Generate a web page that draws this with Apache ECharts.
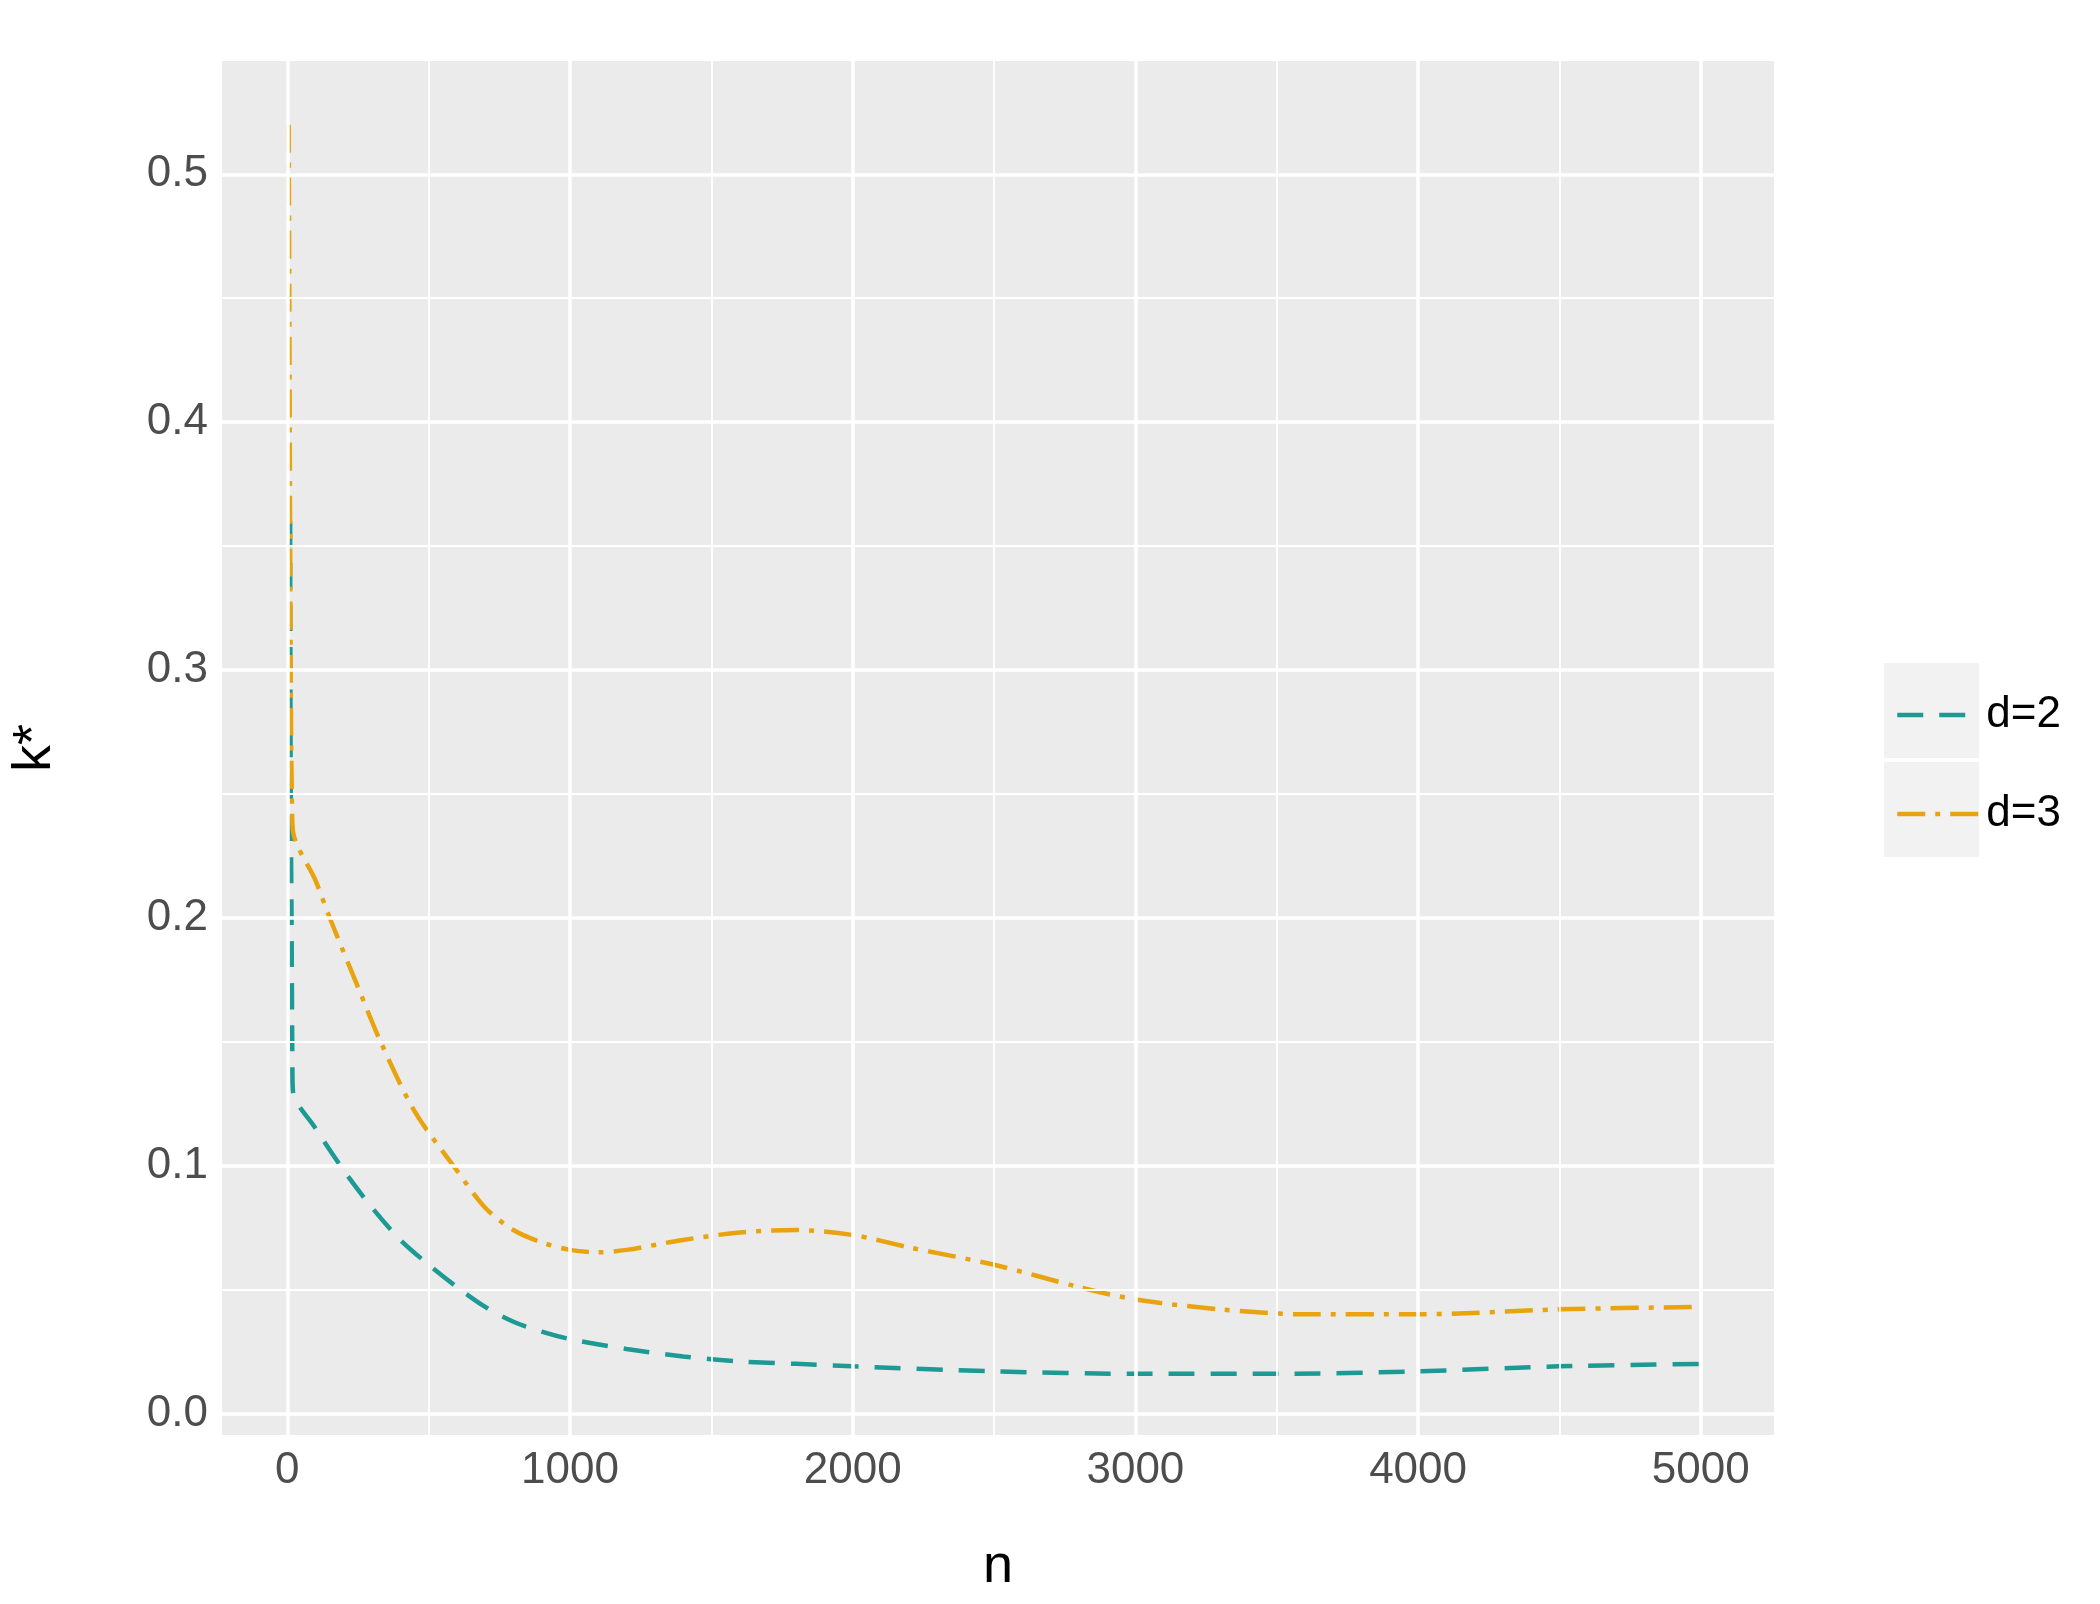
<!DOCTYPE html>
<html><head><meta charset="utf-8">
<script src="https://cdn.jsdelivr.net/npm/echarts@6/dist/echarts.min.js"></script>
<style>html,body{margin:0;padding:0;background:#fff}#c{width:2100px;height:1604px}</style>
</head><body><div id="c"></div>
<script>
const seriesNames = ['d=2', 'd=3'];
const d2 = [[10,0.36],[12,0.25],[15,0.20],[18,0.14],[20,0.13],[100,0.115],[200,0.098],[300,0.083],[400,0.07],[500,0.06],[600,0.051],[700,0.043],[800,0.037],[900,0.033],[1000,0.03],[1200,0.026],[1400,0.023],[1600,0.021],[1800,0.02],[2000,0.019],[2500,0.017],[3000,0.016],[3500,0.016],[4000,0.017],[4500,0.019],[5000,0.02]];
const d3 = [[5,0.52],[8,0.42],[10,0.35],[13,0.28],[16,0.25],[20,0.235],[100,0.215],[150,0.2],[250,0.172],[330,0.15],[450,0.122],[600,0.098],[700,0.083],[800,0.074],[900,0.069],[1000,0.066],[1100,0.065],[1200,0.066],[1400,0.07],[1600,0.073],[1800,0.074],[2000,0.072],[2200,0.067],[2500,0.06],[2800,0.051],[3000,0.046],[3300,0.042],[3600,0.04],[4000,0.04],[4500,0.042],[5000,0.043]];
const xTicks = [0,1000,2000,3000,4000,5000];
const xMinor = [500,1500,2500,3500,4500];
const yTicks = [0,0.1,0.2,0.3,0.4,0.5];
const yMinor = [0.05,0.15,0.25,0.35,0.45];

const chart = echarts.init(document.getElementById('c'));
const grid = {left:215, right:326, top:61, bottom:169};
const gl = (v, w, axis) => ({[axis]: v, lineStyle:{color:'#fff', width:w, type:'solid'}, label:{show:false}, symbol:'none'});
const gridLines = [].concat(
  xTicks.map(v=>gl(v,3.5,'xAxis')), xMinor.map(v=>gl(v,1.8,'xAxis')),
  yTicks.map(v=>gl(v,3.5,'yAxis')), yMinor.map(v=>gl(v,1.8,'yAxis')));
const lab = {color:'#4d4d4d', fontSize:44, fontFamily:'Liberation Sans, Arial'};
const c2 = '#1c9a93', c3 = '#e8a30f';
const ls2 = {color:c2, width:4.5, type:[26,16]};
const ls3 = {color:c3, width:4.5, type:[28,10,5,10]};
chart.setOption({
  animation:false,
  grid:Object.assign({show:true, backgroundColor:'#ebebeb', borderWidth:0}, grid),
  xAxis:{type:'value', min:-231, max:5259, name:'n', nameLocation:'middle', nameGap:105,
    nameTextStyle:{color:'#000', fontSize:54, fontFamily:'Liberation Sans, Arial'},
    axisLine:{show:false}, splitLine:{show:false},
    axisTick:{show:true, length:8, lineStyle:{color:'#333', width:2}, customValues:xTicks},
    axisLabel:Object.assign({customValues:xTicks, margin:14, formatter:v=>String(v)}, lab)},
  yAxis:{type:'value', min:-0.0087, max:0.5457, name:'k*', nameLocation:'middle', nameGap:160,
    nameTextStyle:{color:'#000', fontSize:54, fontFamily:'Liberation Sans, Arial'},
    axisLine:{show:false}, splitLine:{show:false},
    axisTick:{show:true, length:8, lineStyle:{color:'#333', width:2}, customValues:yTicks},
    axisLabel:Object.assign({customValues:yTicks, margin:14, formatter:v=>v.toFixed(1)}, lab)},
  legend:{orient:'vertical', left:1890, top:688, itemWidth:84, itemHeight:20, itemGap:55,
    textStyle:{color:'#000', fontSize:44, fontFamily:'Liberation Sans, Arial'},
    itemStyle:{opacity:0},
    data:[{name:seriesNames[0], lineStyle:ls2}, {name:seriesNames[1], lineStyle:ls3}]},
  graphic:[
    {type:'rect', shape:{x:1884, y:663, width:95, height:95}, style:{fill:'#f2f2f2'}, z:-1},
    {type:'rect', shape:{x:1884, y:762, width:95, height:95}, style:{fill:'#f2f2f2'}, z:-1}
  ],
  series:[
    {type:'line', name:'grid', data:[], silent:true, markLine:{silent:true, symbol:'none', animation:false, data:gridLines}, z:1},
    {type:'line', name:seriesNames[0], data:d2, smooth:0.3, showSymbol:false, symbol:'none', z:3,
      lineStyle:ls2, itemStyle:{color:c2}},
    {type:'line', name:seriesNames[1], data:d3, smooth:0.3, showSymbol:false, symbol:'none', z:3,
      lineStyle:ls3, itemStyle:{color:c3}}
  ]
});
</script></body></html>
